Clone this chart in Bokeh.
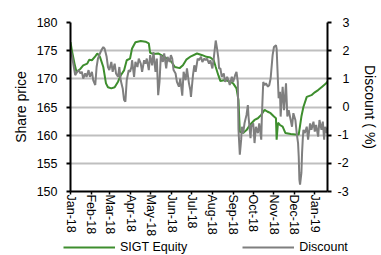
import pandas as pd
from bokeh.plotting import figure
from bokeh.models import (Range1d, LinearAxis, FixedTicker, MonthsTicker,
                          DatetimeTickFormatter, CustomJSTickFormatter, Legend, LegendItem)
from bokeh.embed import file_html
from bokeh.resources import INLINE

# ---- data (day offsets from 2018-01-01) ----
price_day = [0, 2, 6, 9, 15, 19, 25, 28, 32, 37, 40, 44, 49, 53, 56, 61, 66, 71, 75, 80,
             84, 89, 92, 97, 105, 112, 117, 119, 124, 131, 139, 144, 151, 156, 163, 168,
             173, 180, 189, 197, 203, 209, 214, 217, 221, 224, 231, 238, 243, 248, 251,
             253, 258, 263, 268, 275, 280, 285, 290, 294, 299, 304, 307, 308, 310, 313,
             317, 321, 329, 336, 341, 345, 348, 353, 360, 365, 370, 376, 382, 384]
price = [176.5, 175.1, 172.7, 171.2, 171.8, 172.4, 172.7, 173.4, 173.3, 174.0, 174.5,
         173.9, 172.1, 169.2, 168.5, 168.3, 168.5, 169.5, 170.6, 171.5, 173.3, 173.6,
         175.4, 176.5, 176.7, 176.6, 176.3, 174.6, 174.4, 174.5, 174.0, 173.6, 173.0,
         172.1, 171.9, 172.4, 173.4, 174.0, 174.5, 174.2, 173.9, 173.8, 173.3, 172.1,
         170.6, 169.6, 169.8, 169.5, 169.2, 168.3, 166.2, 160.6, 160.4, 160.9, 161.8,
         162.7, 163.0, 163.6, 164.5, 164.2, 163.9, 163.3, 163.0, 159.2, 162.2, 161.8,
         161.5, 160.4, 160.2, 160.1, 160.1, 163.3, 165.0, 166.8, 167.1, 167.6, 168.0,
         168.6, 169.2, 169.5]

disc_day = [0, 2, 5, 7, 10, 12, 15, 17, 19, 22, 24, 27, 29, 32, 34, 37, 39, 41, 44, 46,
            49, 51, 54, 56, 58, 61, 63, 66, 68, 71, 73, 75, 78, 80, 82, 84, 87, 89, 91,
            92, 95, 97, 100, 102, 105, 107, 110, 112, 114, 117, 119, 122, 124, 127, 129,
            131, 133, 135, 138, 140, 143, 145, 148, 150, 152, 154, 157, 159, 162, 164,
            167, 169, 172, 174, 177, 179, 180, 183, 185, 187, 190, 192, 195, 197, 200,
            202, 204, 207, 209, 212, 214, 217, 219, 221, 222, 224, 226, 229, 231, 234,
            236, 238, 241, 243, 246, 248, 250, 251, 253, 255, 256, 258, 260, 263, 265,
            266, 269, 270, 273, 275, 277, 280, 282, 285, 286, 288, 290, 292, 295, 297,
            299, 302, 304, 307, 308, 309, 311, 313, 314, 315, 317, 319, 320, 322, 324,
            326, 329, 331, 333, 336, 338, 340, 341, 342, 343, 345, 346, 347, 348, 350,
            353, 355, 358, 360, 363, 365, 367, 370, 372, 375, 377, 379, 380, 383, 384]
disc = [2.01, 1.84, 1.42, 1.13, 1.25, 1.31, 1.19, 1.25, 1.01, 1.19, 1.07, 1.31, 1.07,
        1.25, 0.95, 0.78, 1.42, 1.72, 1.90, 2.01, 2.13, 2.07, 1.78, 1.42, 1.31, 1.60,
        1.25, 1.54, 1.19, 1.07, 1.42, 0.95, 0.66, 0.25, 0.19, 0.95, 1.31, 1.25, 1.42,
        1.66, 1.07, 1.60, 1.42, 1.72, 1.54, 1.25, 1.66, 1.54, 1.72, 1.31, 1.84, 1.48,
        1.95, 1.25, 1.72, 0.42, 0.89, 1.84, 1.60, 1.90, 1.37, 1.78, 1.60, 1.84, 1.72,
        1.31, 1.19, 0.89, 0.72, 1.01, 0.40, 1.25, 0.95, 1.37, 0.84, 0.60, 0.36, 1.13,
        1.48, 1.25, 1.72, 1.66, 1.78, 1.60, 1.72, 1.66, 1.72, 1.54, 1.66, 1.37, 1.72,
        2.36, 2.07, 1.72, 1.37, 1.37, 1.07, 1.19, 0.89, 1.07, 0.95, 0.78, 1.07, 0.89,
        1.13, 1.25, 0.89, -0.81, -1.69, -1.16, -0.70, -0.93, -0.58, -0.28, 0.07, -0.34,
        -1.11, -0.70, -0.58, -1.28, -0.70, -0.93, -0.58, -1.16, -0.28, 0.89, 0.78, 0.84,
        0.72, 0.78, 1.01, 1.84, 2.13, 2.19, 2.07, 1.48, 0.31, 0.54, -0.34, 0.07, 0.72,
        -0.11, 0.19, 0.84, -0.34, -0.11, -0.46, -0.70, -0.22, -0.46, -0.93, -1.28,
        -1.75, -2.58, -2.76, -2.34, -1.63, -1.16, -0.81, -0.93, -0.70, -1.16, -0.58,
        -0.81, -0.52, -0.87, -0.64, -1.05, -0.46, -0.81, -0.52, -1.16, -0.70, -0.93,
        -0.70]

price_ticks = [150, 155, 160, 165, 170, 175, 180]
disc_ticks = [-3, -2, -1, 0, 1, 2, 3]
series_names = ["SIGT Equity", "Discount"]

start = pd.Timestamp("2018-01-01")
price_dates = start + pd.to_timedelta(price_day, unit="D")
disc_dates = start + pd.to_timedelta(disc_day, unit="D")

GREEN = "#3E8E2E"
GRAY = "#7F7F7F"
FONT = "Liberation Sans"

p = figure(width=381, height=239, x_axis_type="datetime",
           x_range=Range1d(start, pd.Timestamp("2019-01-20")),
           y_range=Range1d(150, 180),
           output_backend="svg", toolbar_location=None,
           min_border_left=70, min_border_right=48, min_border_top=22,
           min_border_bottom=47)
p.outline_line_color = None
p.extra_y_ranges = {"disc": Range1d(-3, 3)}

# grid
p.xgrid.visible = False
p.ygrid.grid_line_color = "#BFBFBF"
p.ygrid.grid_line_width = 2

# x axis
xa = p.xaxis[0]
xa.ticker = MonthsTicker(months=list(range(12)))
xa.formatter = DatetimeTickFormatter(months="%b-%y", days="%b-%y")
xa.major_label_orientation = "vertical"
xa.major_label_text_font = FONT
xa.major_label_text_font_size = "12.5px"
xa.major_label_text_color = "black"
xa.major_label_standoff = 0
xa.axis_line_width = 2
xa.axis_line_color = "black"
xa.major_tick_line_width = 1.5
xa.major_tick_in = 0
xa.major_tick_out = 3
xa.minor_tick_line_color = None

# left axis
ya = p.yaxis[0]
ya.ticker = FixedTicker(ticks=price_ticks)
ya.axis_label = "Share price"
ya.axis_label_text_font = FONT
ya.axis_label_text_font_style = "normal"
ya.axis_label_text_font_size = "14px"
ya.axis_label_text_color = "black"
ya.axis_label_standoff = 5
ya.major_label_text_font = FONT
ya.major_label_text_font_size = "12.5px"
ya.major_label_text_color = "black"
ya.major_label_standoff = 9
ya.axis_line_width = 2
ya.axis_line_color = "black"
ya.major_tick_line_width = 2
ya.major_tick_in = 0
ya.major_tick_out = 4
ya.minor_tick_line_color = None

# right axis
ra = LinearAxis(y_range_name="disc", ticker=FixedTicker(ticks=disc_ticks))
ra.formatter = CustomJSTickFormatter(
    code="return tick < 0 ? '-' + Math.abs(tick) : '\\u2009\\u2009' + tick;")
ra.axis_label = "Discount ( %)"
ra.axis_label_text_font = FONT
ra.axis_label_text_font_style = "normal"
ra.axis_label_text_font_size = "14px"
ra.axis_label_text_color = "black"
ra.axis_label_standoff = 10
ra.major_label_text_font = FONT
ra.major_label_text_font_size = "12.5px"
ra.major_label_text_color = "black"
ra.major_label_standoff = 6
ra.axis_line_width = 2
ra.axis_line_color = "black"
ra.major_tick_line_width = 2
ra.major_tick_in = 0
ra.major_tick_out = 4
ra.minor_tick_line_color = None
p.add_layout(ra, "right")

# series
g = p.line(price_dates, price, line_color=GREEN, line_width=2)
d = p.line(disc_dates, disc, line_color=GRAY, line_width=2, y_range_name="disc")

# legend strip below the chart (legend-only renderers hold no visible data)
lf = figure(width=381, height=16, output_backend="svg", toolbar_location=None,
            x_axis_location=None, y_axis_location=None, min_border=0,
            min_border_left=0, min_border_right=0, min_border_top=0,
            min_border_bottom=0,
            x_range=Range1d(0, 1), y_range=Range1d(0, 1))
lf.outline_line_color = None
lf.grid.visible = False
nan = float("nan")
lg = lf.line(x=[nan, nan], y=[nan, nan], line_color=GREEN, line_width=2)
ld = lf.line(x=[nan, nan], y=[nan, nan], line_color=GRAY, line_width=2)
legend = Legend(items=[LegendItem(label=series_names[0], renderers=[lg]),
                       LegendItem(label=series_names[1], renderers=[ld])],
                location=(63, 0), orientation="horizontal",
                padding=0, margin=0, spacing=55, glyph_width=52, glyph_height=16,
                label_height=16, label_standoff=5,
                label_text_font=FONT, label_text_font_size="12.5px",
                label_text_color="black",
                border_line_alpha=0, background_fill_alpha=0)
lf.add_layout(legend, "center")

open("out.html", "w").write(file_html([p, lf], INLINE))
